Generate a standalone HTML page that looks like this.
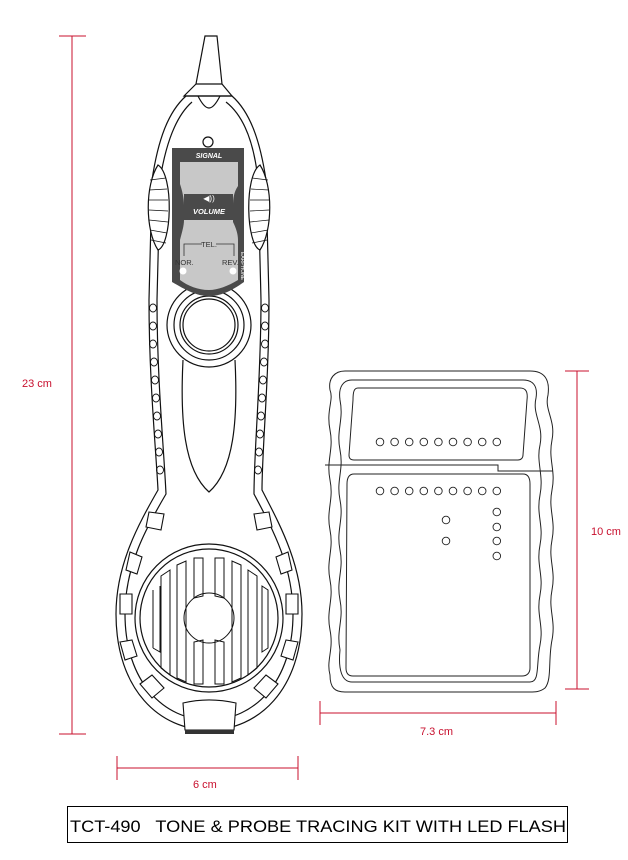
<!DOCTYPE html>
<html><head><meta charset="utf-8"><style>
html,body{margin:0;padding:0;background:#fff;}
svg{display:block;font-family:"Liberation Sans",sans-serif;}
</style></head><body>
<svg width="628" height="860" viewBox="0 0 628 860" xmlns="http://www.w3.org/2000/svg">
<g stroke="#c8102e" stroke-width="1" fill="none">
  <line x1="72" y1="36" x2="72" y2="734"/><line x1="59" y1="36" x2="86" y2="36"/><line x1="59" y1="734" x2="86" y2="734"/>
  <line x1="117" y1="768" x2="298" y2="768"/><line x1="117" y1="756" x2="117" y2="780"/><line x1="298" y1="756" x2="298" y2="780"/>
  <line x1="577" y1="371" x2="577" y2="689"/><line x1="565" y1="371" x2="589" y2="371"/><line x1="565" y1="689" x2="589" y2="689"/>
  <line x1="320" y1="713" x2="556" y2="713"/><line x1="320" y1="701" x2="320" y2="725"/><line x1="556" y1="701" x2="556" y2="725"/>
</g>
<g fill="#c8102e" font-size="11">
  <text x="22" y="387">23 cm</text>
  <text x="193" y="788">6 cm</text>
  <text x="591" y="535">10 cm</text>
  <text x="420" y="735">7.3 cm</text>
</g>
<rect x="67.5" y="806.5" width="500" height="36" fill="none" stroke="#000"/>
<text x="70" y="832" font-size="17" fill="#000" textLength="496" lengthAdjust="spacingAndGlyphs" xml:space="preserve">TCT-490   TONE &amp; PROBE TRACING KIT WITH LED FLASH</text>

<g fill="none" stroke="#111" stroke-width="1.2">
  <path d="M205,36 L217,36 L222,84 L232,96 L184,96 L196,84 Z" fill="#fff"/>
  <path d="M196,84 L222,84"/>
  <path d="M198,96 C202,104 206,108 209,108 C212,108 216,104 220,96"/>
  <path d="M186,96 C168,112 158,140 152,180 L149,300 C149,380 156,450 158,490 C138,525 116,565 116,614 C116,690 160,730 209,730 C258,730 302,690 302,614 C302,565 280,525 262,490 C262,450 269,380 269,300 L266,180 C260,140 250,112 232,96 Z"/>
  <path d="M192,102 C176,116 166,142 160,180 L157,300 C157,380 164,450 166,494 C146,528 125,566 125,614 C125,682 164,720 209,720 C254,720 293,682 293,614 C293,566 272,528 254,494 C254,450 261,380 261,300 L258,180 C254,142 244,116 226,102"/>
  <circle cx="208" cy="142" r="5"/>
  <path d="M158,165 C145,185 145,230 158,250 C172,245 174,175 158,165 Z" fill="#fff"/>
  <path d="M260,165 C273,185 273,230 260,250 C246,245 244,175 260,165 Z" fill="#fff"/>
  <g stroke-width="0.7">
    <path d="M150,180 L166,178 M149,190 L167,189 M149,200 L168,200 M149,210 L168,211 M149,220 L168,222 M150,230 L167,233 M151,240 L166,243"/>
    <path d="M268,180 L252,178 M269,190 L251,189 M269,200 L250,200 M269,210 L250,211 M269,220 L250,222 M268,230 L251,233 M267,240 L252,243"/>
  </g>
  <circle cx="209" cy="325" r="42" fill="#fff"/>
  <circle cx="209" cy="325" r="35"/>
  <circle cx="209" cy="325" r="29"/>
  <circle cx="209" cy="325" r="26"/>
  <path d="M183,360 C180,420 184,470 209,492 C234,470 238,420 235,360"/>
  <circle cx="209" cy="618" r="74"/>
  <circle cx="209" cy="618" r="69"/>
  <circle cx="209" cy="618" r="25" stroke-width="1"/>
  <g stroke-width="1">
    <path d="M153,590 L153,648"/><path d="M160,586 L160,652 L153,648"/>
    <path d="M161,576 L161,668 L170,675 L170,570 Z"/>
    <path d="M177,565 L177,678 L186,682 L186,561 Z"/>
    <path d="M194,558 L194,598 L203,596 L203,558 Z"/>
    <path d="M194,642 L194,684 L203,684 L203,640 Z"/>
    <path d="M215,558 L215,596 L224,598 L224,558 Z"/>
    <path d="M215,640 L215,684 L224,684 L224,642 Z"/>
    <path d="M232,561 L232,682 L241,678 L241,565 Z"/>
    <path d="M248,570 L248,675 L257,668 L257,576 Z"/>
    <path d="M262,586 L262,652 L268,648 L268,590 Z"/>
  </g>
  <g stroke-width="1.1" fill="#fff">
    <path d="M149,512 L164,514 L161,530 L146,527 Z"/><path d="M269,512 L254,514 L257,530 L272,527 Z"/>
    <path d="M130,552 L142,557 L137,574 L126,570 Z"/><path d="M288,552 L276,557 L281,574 L292,570 Z"/>
    <path d="M120,594 L132,594 L132,614 L120,614 Z"/><path d="M298,594 L286,594 L286,614 L298,614 Z"/>
    <path d="M120,642 L132,640 L137,656 L125,660 Z"/><path d="M298,642 L286,640 L281,656 L293,660 Z"/>
    <path d="M140,684 L152,675 L164,688 L152,698 Z"/><path d="M278,684 L266,675 L254,688 L266,698 Z"/>
    <path d="M183,703 C200,699 218,699 236,703 L234,730 L185,730 Z"/>
  </g>
  <rect x="185" y="730" width="49" height="4" fill="#333" stroke="none"/>
  <g stroke-width="0.9">
    <ellipse cx="153" cy="308" rx="3.5" ry="4"/><ellipse cx="153" cy="326" rx="3.5" ry="4"/><ellipse cx="153" cy="344" rx="3.5" ry="4"/><ellipse cx="154" cy="362" rx="3.5" ry="4"/><ellipse cx="155" cy="380" rx="3.5" ry="4"/><ellipse cx="156" cy="398" rx="3.5" ry="4"/><ellipse cx="157" cy="416" rx="3.5" ry="4"/><ellipse cx="158" cy="434" rx="3.5" ry="4"/><ellipse cx="159" cy="452" rx="3.5" ry="4"/><ellipse cx="160" cy="470" rx="3.5" ry="4"/>
    <ellipse cx="265" cy="308" rx="3.5" ry="4"/><ellipse cx="265" cy="326" rx="3.5" ry="4"/><ellipse cx="265" cy="344" rx="3.5" ry="4"/><ellipse cx="264" cy="362" rx="3.5" ry="4"/><ellipse cx="263" cy="380" rx="3.5" ry="4"/><ellipse cx="262" cy="398" rx="3.5" ry="4"/><ellipse cx="261" cy="416" rx="3.5" ry="4"/><ellipse cx="260" cy="434" rx="3.5" ry="4"/><ellipse cx="259" cy="452" rx="3.5" ry="4"/><ellipse cx="258" cy="470" rx="3.5" ry="4"/>
  </g>
</g>
<path d="M172,148 L244,148 L244,282 C230,292 220,296 209,296 C196,296 186,290 172,282 Z" fill="#4a4a4a"/>
<path d="M180,162 L238,162 L238,186 C234,192 233,198 233,206 L233,222 C236,228 238,234 238,240 L238,280 C228,286 218,290 209,290 C198,290 188,286 180,280 L180,240 C182,232 184,226 184,220 L184,205 C184,198 182,190 180,184 Z" fill="#c8c8c8"/>
<path d="M190,148 L228,148 L224,160 L194,160 Z" fill="#4a4a4a"/>
<path d="M184,194 L233,194 L233,220 L184,220 Z" fill="#4a4a4a"/>
<text x="209" y="158" font-size="7" font-style="italic" font-weight="bold" fill="#fff" text-anchor="middle">SIGNAL</text>
<text x="209" y="201" font-size="8" fill="#fff" text-anchor="middle">◀))</text>
<text x="209" y="214" font-size="7.5" font-style="italic" font-weight="bold" fill="#fff" text-anchor="middle">VOLUME</text>
<g fill="none" stroke="#333" stroke-width="0.8">
  <path d="M184,256 L184,244 L202,244 M216,244 L234,244 L234,256"/>
</g>
<text x="209" y="247" font-size="7.5" fill="#333" text-anchor="middle">TEL.</text>
<text x="175" y="265" font-size="7.5" fill="#333">NOR.</text>
<text x="222" y="265" font-size="7.5" fill="#333">REV.</text>
<circle cx="183" cy="271" r="3.5" fill="#fff"/>
<circle cx="233" cy="271" r="3.5" fill="#fff"/>
<text x="0" y="0" font-size="5" fill="#fff" transform="translate(241,252) rotate(90)">EARPHONE</text>

<g fill="none" stroke="#222" stroke-width="1">
  <path d="M345,371 L530,371 C545,371 550,380 548,395 C544,410 556,420 552,440 C548,460 556,470 552,490 C548,510 556,520 552,540 C548,560 556,570 552,590 C548,610 556,620 552,640 C548,660 552,680 545,688 C540,692 535,692 530,692 L345,692 C335,692 330,688 330,675 C326,660 334,650 330,630 C326,610 334,600 330,580 C326,560 334,550 330,530 C326,510 334,500 330,480 C326,460 334,450 330,430 C326,410 334,400 330,390 C328,378 335,371 345,371 Z"/>
  <path d="M352,380 L523,380 C533,380 538,386 536,398 C532,415 544,425 540,445 C536,462 544,475 540,495 C536,515 544,525 540,545 C536,565 544,575 540,595 C536,615 544,625 540,645 C536,665 540,682 530,682 L352,682 C342,682 338,670 340,650 C336,630 344,620 340,600 C336,580 344,570 340,550 C336,530 344,520 340,500 C336,480 344,470 340,450 C336,430 344,420 340,400 C338,386 344,380 352,380 Z"/>
  <path d="M358,388 L520,388 C526,388 528,392 527,400 L523,455 C523,458 521,460 518,460 L354,460 C350,460 349,458 349,455 L353,400 C353,392 354,388 358,388 Z"/>
  <path d="M354,474 L523,474 C528,474 530,478 530,484 L530,668 C530,673 527,676 522,676 L353,676 C348,676 346,673 346,668 L347,484 C347,478 349,474 354,474 Z"/>
  <path d="M325,465 L498,465 L498,471 L553,471"/>
  <g stroke-width="0.9">
    <circle cx="380" cy="442" r="3.8"/><circle cx="394.6" cy="442" r="3.8"/><circle cx="409.2" cy="442" r="3.8"/><circle cx="423.8" cy="442" r="3.8"/><circle cx="438.4" cy="442" r="3.8"/><circle cx="453" cy="442" r="3.8"/><circle cx="467.6" cy="442" r="3.8"/><circle cx="482.2" cy="442" r="3.8"/><circle cx="496.8" cy="442" r="3.8"/>
    <circle cx="380" cy="491" r="3.8"/><circle cx="394.6" cy="491" r="3.8"/><circle cx="409.2" cy="491" r="3.8"/><circle cx="423.8" cy="491" r="3.8"/><circle cx="438.4" cy="491" r="3.8"/><circle cx="453" cy="491" r="3.8"/><circle cx="467.6" cy="491" r="3.8"/><circle cx="482.2" cy="491" r="3.8"/><circle cx="496.8" cy="491" r="3.8"/>
    <circle cx="496.8" cy="512" r="3.8"/><circle cx="496.8" cy="527" r="3.8"/><circle cx="496.8" cy="541" r="3.8"/><circle cx="496.8" cy="556" r="3.8"/>
    <circle cx="446" cy="520" r="3.8"/><circle cx="446" cy="541" r="3.8"/>
  </g>
</g>
</svg>
</body></html>
